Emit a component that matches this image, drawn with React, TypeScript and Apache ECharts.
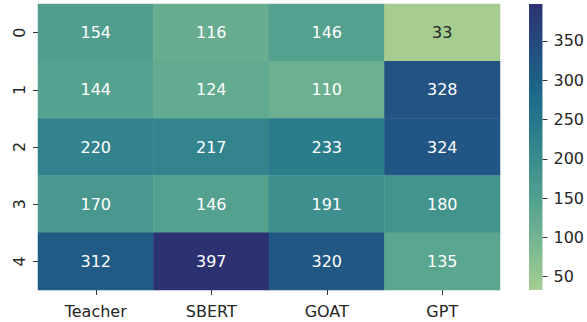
import React, { useEffect, useRef } from "react";
import * as echarts from "echarts";

const columns = ["Teacher", "SBERT", "GOAT", "GPT"];
const rowLabels = ["0", "1", "2", "3", "4"];
const row0 = [154, 116, 146, 33];
const row1 = [144, 124, 110, 328];
const row2 = [220, 217, 233, 324];
const row3 = [170, 146, 191, 180];
const row4 = [312, 397, 320, 135];
const colorbarTicks = [50, 100, 150, 200, 250, 300, 350];
const crest = ["#a5cd90", "#7dba91", "#59a590", "#40908e", "#287a8c", "#1c6488", "#254b7f", "#2c3172"];

const FONT = "DejaVu Sans";

export default function App() {
  const ref = useRef<HTMLDivElement>(null);
  useEffect(() => {
    if (!ref.current) return;
    const chart = echarts.init(ref.current, undefined, { renderer: "svg" });
    const rows = [row0, row1, row2, row3, row4];
    const all = rows.flat();
    const vmin = Math.min(...all);
    const vmax = Math.max(...all);
    const data: any[] = [];
    rows.forEach((r, yi) =>
      r.forEach((v, xi) => {
        data.push({
          value: [xi, yi, v],
          label: { color: v < 70 ? "#262626" : "#ffffff" },
        });
      })
    );
    const stops = crest
      .map((c, i) => ({ offset: 1 - i / (crest.length - 1), color: c }))
      .reverse();
    chart.setOption({
      animation: false,
      textStyle: { fontFamily: FONT },
      grid: [
        { left: 38, width: 462, top: 4, height: 286, containLabel: false },
        { left: 529, width: 15, top: 4, height: 286, containLabel: false },
      ],
      xAxis: [
        {
          type: "category",
          gridIndex: 0,
          data: columns,
          axisLine: { show: false },
          axisTick: { show: true, alignWithLabel: true, length: 5, lineStyle: { color: "#333" } },
          axisLabel: { fontFamily: FONT, fontSize: 16, color: "#262626", margin: 13 },
          splitLine: { show: false },
        },
        {
          type: "category",
          gridIndex: 1,
          data: [""],
          show: false,
        },
      ],
      yAxis: [
        {
          type: "category",
          gridIndex: 0,
          data: rowLabels,
          inverse: true,
          axisLine: { show: false },
          axisTick: { show: true, alignWithLabel: true, length: 5, lineStyle: { color: "#333" } },
          axisLabel: { fontFamily: FONT, fontSize: 16, color: "#262626", rotate: 90, margin: 11 },
          splitLine: { show: false },
        },
        {
          type: "value",
          gridIndex: 1,
          position: "right",
          min: vmin,
          max: vmax,
          axisLine: { show: false },
          splitLine: { show: false },
          axisTick: { show: true, length: 5, lineStyle: { color: "#333" }, customValues: colorbarTicks },
          axisLabel: { fontFamily: FONT, fontSize: 16, color: "#262626", margin: 11, customValues: colorbarTicks },
        },
      ],
      visualMap: {
        show: false,
        min: vmin,
        max: vmax,
        dimension: 2,
        seriesIndex: 0,
        inRange: { color: crest },
      },
      series: [
        {
          type: "heatmap",
          xAxisIndex: 0,
          yAxisIndex: 0,
          data,
          label: { show: true, fontFamily: FONT, fontSize: 16 },
          itemStyle: { borderWidth: 0 },
          emphasis: { disabled: true },
        },
        {
          type: "custom",
          xAxisIndex: 1,
          yAxisIndex: 1,
          data: [[0, vmin, vmax]],
          renderItem: (params: any, api: any) => {
            const top = api.coord([0, api.value(2)]);
            const bot = api.coord([0, api.value(1)]);
            const w = api.size([1, 0])[0];
            return {
              type: "rect",
              shape: { x: top[0] - w / 2, y: top[1], width: w, height: bot[1] - top[1] },
              style: { fill: new echarts.graphic.LinearGradient(0, 0, 0, 1, stops) },
            };
          },
        },
      ],
    });
    return () => chart.dispose();
  }, []);
  return (
    <div
      ref={ref}
      style={{ position: "fixed", left: 0, top: 0, width: 587, height: 322, background: "#fff" }}
    />
  );
}
